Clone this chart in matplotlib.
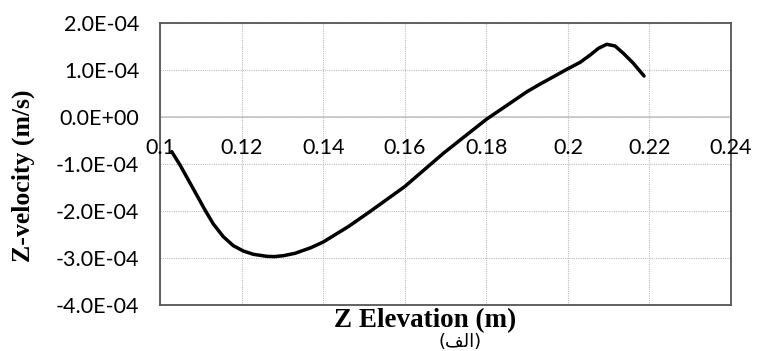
import numpy as np
import matplotlib
matplotlib.use("Agg")
import matplotlib.pyplot as plt

# elevation (m) and vertical velocity (m/s)
z_elev = [0.10287, 0.10490, 0.10694, 0.10900, 0.11103, 0.11307, 0.11552,
          0.11797, 0.12042, 0.12288, 0.12616, 0.12800, 0.13023, 0.13310,
          0.13700, 0.14000, 0.14620, 0.15150, 0.16000, 0.16950, 0.18000,
          0.19000, 0.19320, 0.19647, 0.19975, 0.20302, 0.20547, 0.20751,
          0.20952, 0.21156, 0.21360, 0.21605, 0.21867]
z_vel = [-0.738e-4, -1.021e-4, -1.340e-4, -1.660e-4, -1.979e-4, -2.277e-4,
         -2.547e-4, -2.738e-4, -2.851e-4, -2.921e-4, -2.964e-4, -2.970e-4,
         -2.951e-4, -2.900e-4, -2.780e-4, -2.660e-4, -2.330e-4, -2.010e-4,
         -1.480e-4, -0.770e-4, -0.050e-4, 0.540e-4, 0.702e-4, 0.857e-4,
         1.015e-4, 1.164e-4, 1.319e-4, 1.462e-4, 1.547e-4, 1.511e-4,
         1.355e-4, 1.143e-4, 0.872e-4]

x_ticks = [0.1, 0.12, 0.14, 0.16, 0.18, 0.2, 0.22, 0.24]
x_tick_labels = ["0.1", "0.12", "0.14", "0.16", "0.18", "0.2", "0.22", "0.24"]
y_ticks = [-4e-4, -3e-4, -2e-4, -1e-4, 0.0, 1e-4, 2e-4]
y_tick_labels = ["-4.0E-04", "-3.0E-04", "-2.0E-04", "-1.0E-04",
                 "0.0E+00", "1.0E-04", "2.0E-04"]

tick_font = "Lato"
label_font = "Liberation Serif"

fig = plt.figure(figsize=(7.57, 3.51), dpi=100)
ax = fig.add_axes([0.2114, 0.131, 0.7543, 0.8035])

ax.set_xlim(0.1, 0.24)
ax.set_ylim(-4e-4, 2e-4)

# dotted grid, solid zero line
ax.set_xticks(x_ticks)
ax.set_yticks(y_ticks)
ax.grid(True, color="#bdbdbd", linestyle=(0, (1, 1)), linewidth=0.8)
ax.axhline(0, color="#c8c8c8", linewidth=1.2, zorder=1)
ax.tick_params(length=0)

for s in ax.spines.values():
    s.set_color("#555555")
    s.set_linewidth(1.3)

ax.set_xticklabels([])
ax.set_yticklabels(y_tick_labels, fontfamily=tick_font, fontsize=15.5)
ax.tick_params(axis="y", pad=15)

# x tick labels sit just under the zero line
for xv, lab in zip(x_ticks, x_tick_labels):
    ax.annotate(lab, (xv, 0), xytext=(0, -22), textcoords="offset points",
                ha="center", va="center", fontfamily=tick_font, fontsize=15.5,
                annotation_clip=False)

ax.plot(z_elev, z_vel, color="black", linewidth=2.5,
        solid_joinstyle="round", solid_capstyle="round", zorder=3)

fig.text(0.0304, 0.4986, "Z-velocity (m/s)", rotation=90, ha="center",
         va="center", fontfamily=label_font, fontweight="bold", fontsize=18.5)
fig.text(0.562, 0.0855, "Z Elevation (m)", ha="center", va="center",
         fontfamily=label_font, fontweight="bold", fontsize=19.5)
fig.text(0.608, 0.026, "(\ufed2\ufedf\ufe8d)", ha="center", va="center",
         fontfamily="DejaVu Sans", fontsize=13)

fig.savefig("out.png", dpi=100)
